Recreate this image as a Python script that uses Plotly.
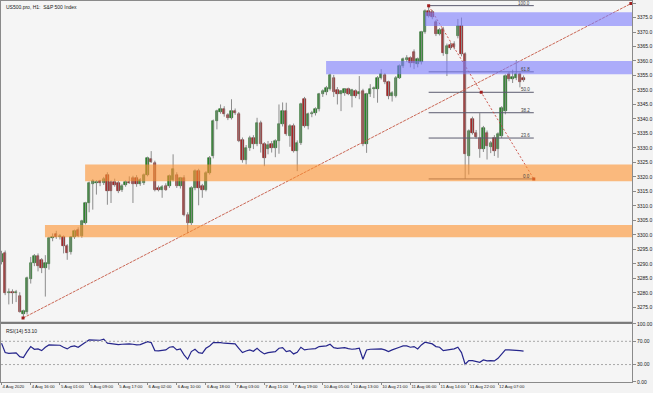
import plotly.graph_objects as go

# ---------------- data ----------------
opens = [3290.5, 3293.7, 3279.9, 3280.4, 3279.8, 3279.0, 3272.6, 3273.3, 3284.6, 3290.3,
         3292.8, 3291.2, 3288.6, 3290.0, 3298.9, 3300.2, 3299.2, 3299.2, 3296.0, 3294.0,
         3299.2, 3301.8, 3299.5, 3304.2, 3311.0, 3317.4, 3317.8, 3318.5, 3317.9, 3320.8,
         3318.2, 3318.4, 3317.8, 3315.6, 3317.2, 3318.3, 3319.7, 3319.7, 3317.4, 3317.8,
         3320.8, 3326.2, 3324.9, 3316.2, 3315.6, 3316.8, 3316.8, 3319.1, 3320.8, 3316.8,
         3319.7, 3307.0, 3304.1, 3316.2, 3322.0, 3316.8, 3315.6, 3321.5, 3327.2, 3339.3,
         3342.4, 3343.6, 3341.3, 3340.4, 3342.7, 3341.6, 3332.9, 3326.0, 3330.1, 3333.5,
         3331.2, 3338.7, 3331.2, 3329.6, 3331.2, 3330.1, 3332.4, 3338.1, 3342.7, 3334.1,
         3337.5, 3328.9, 3331.8, 3346.8, 3337.5, 3341.6, 3342.0, 3343.3, 3348.5, 3349.2,
         3350.2, 3354.3, 3350.0, 3348.6, 3348.8, 3350.2, 3347.8, 3349.5, 3348.6, 3349.7,
         3331.2, 3348.5, 3350.2, 3350.2, 3354.3, 3355.1, 3352.6, 3347.9, 3347.9, 3354.3,
         3358.3, 3360.4, 3361.0, 3363.0, 3359.0, 3359.5, 3369.9, 3377.3, 3376.8, 3373.3,
         3369.3, 3371.0, 3362.4, 3365.6, 3366.0, 3368.7, 3372.1, 3362.4, 3327.2, 3339.9,
         3335.3, 3333.5, 3329.5, 3335.0, 3330.2, 3333.5, 3329.5, 3334.0, 3342.7, 3355.4,
         3353.7, 3354.0, 3355.4, 3354.2]
highs = [3294.5, 3294.6, 3281.5, 3281.2, 3281.0, 3280.2, 3274.2, 3285.6, 3292.4, 3293.4,
         3293.6, 3292.0, 3293.0, 3299.3, 3300.5, 3301.4, 3300.3, 3299.8, 3296.8, 3299.6,
         3301.8, 3302.6, 3305.2, 3311.4, 3318.4, 3319.2, 3318.9, 3319.0, 3320.0, 3321.6,
         3318.8, 3319.4, 3318.6, 3317.6, 3318.8, 3320.2, 3320.4, 3320.6, 3319.6, 3321.2,
         3327.0, 3328.9, 3325.6, 3317.0, 3317.2, 3317.8, 3320.8, 3327.8, 3321.6, 3320.0,
         3320.6, 3307.8, 3316.8, 3322.6, 3322.8, 3317.6, 3322.0, 3327.2, 3339.8, 3343.2,
         3345.0, 3344.4, 3342.0, 3346.8, 3343.6, 3342.4, 3333.6, 3331.0, 3334.2, 3334.4,
         3340.4, 3339.4, 3332.0, 3332.4, 3332.4, 3333.0, 3345.0, 3345.7, 3345.6, 3338.2,
         3338.4, 3332.6, 3345.6, 3347.6, 3342.2, 3342.8, 3344.0, 3349.0, 3350.2, 3351.4,
         3355.6, 3355.2, 3351.0, 3350.0, 3350.6, 3350.8, 3350.4, 3350.2, 3354.8, 3350.4,
         3349.0, 3352.0, 3351.2, 3354.8, 3357.2, 3355.8, 3353.2, 3349.6, 3354.8, 3358.8,
         3361.2, 3362.0, 3361.6, 3364.0, 3361.2, 3370.4, 3377.8, 3379.1, 3377.6, 3374.2,
         3371.4, 3371.8, 3366.0, 3366.4, 3366.8, 3374.5, 3375.0, 3363.0, 3336.4, 3340.8,
         3336.2, 3342.0, 3337.6, 3336.0, 3332.4, 3334.4, 3335.4, 3344.4, 3355.4, 3356.2,
         3357.0, 3360.3, 3356.0, 3355.0]
lows = [3289.8, 3279.2, 3276.0, 3276.2, 3276.8, 3273.2, 3271.4, 3272.5, 3283.2, 3289.2,
        3287.4, 3286.8, 3278.7, 3288.0, 3297.8, 3298.6, 3298.4, 3293.6, 3291.4, 3293.2,
        3298.6, 3299.2, 3299.0, 3303.6, 3307.8, 3308.7, 3313.9, 3316.8, 3317.2, 3310.4,
        3311.0, 3316.6, 3314.4, 3314.8, 3316.6, 3317.6, 3311.0, 3316.6, 3316.9, 3317.2,
        3320.2, 3324.8, 3315.0, 3315.0, 3312.8, 3315.2, 3316.2, 3318.4, 3316.2, 3316.0,
        3306.4, 3300.6, 3303.4, 3315.4, 3310.2, 3312.8, 3315.0, 3320.8, 3326.4, 3336.4,
        3341.8, 3340.8, 3339.6, 3339.8, 3341.4, 3332.0, 3324.9, 3324.3, 3329.0, 3329.6,
        3330.6, 3328.4, 3323.7, 3327.8, 3328.4, 3326.8, 3328.0, 3337.4, 3334.2, 3330.4,
        3328.4, 3322.0, 3331.0, 3337.0, 3336.4, 3340.6, 3341.2, 3342.6, 3347.6, 3348.2,
        3349.8, 3347.6, 3345.0, 3342.7, 3348.0, 3348.2, 3344.0, 3347.2, 3346.8, 3330.6,
        3328.3, 3347.6, 3347.2, 3345.6, 3353.6, 3352.0, 3346.8, 3346.0, 3347.4, 3353.8,
        3357.6, 3359.6, 3357.8, 3357.2, 3357.8, 3358.8, 3369.4, 3375.0, 3374.4, 3368.6,
        3368.8, 3361.8, 3354.8, 3363.8, 3364.0, 3367.8, 3361.6, 3319.3, 3320.8, 3334.6,
        3333.2, 3326.6, 3328.6, 3326.0, 3328.2, 3327.2, 3326.6, 3333.4, 3341.6, 3353.0,
        3352.4, 3353.4, 3350.9, 3352.8]
closes = [3293.5, 3279.9, 3280.4, 3279.8, 3280.2, 3273.5, 3273.6, 3285.1, 3290.3, 3292.6,
          3289.1, 3288.6, 3290.2, 3298.9, 3299.4, 3299.2, 3299.6, 3296.0, 3293.7, 3299.2,
          3301.2, 3299.6, 3304.7, 3311.0, 3318.0, 3318.5, 3318.4, 3317.9, 3319.4, 3315.1,
          3315.2, 3317.2, 3315.1, 3317.0, 3318.3, 3318.0, 3317.4, 3317.4, 3319.1, 3320.8,
          3326.6, 3325.2, 3315.6, 3315.6, 3316.4, 3315.6, 3320.2, 3322.6, 3316.8, 3319.7,
          3307.0, 3304.1, 3316.2, 3322.0, 3316.2, 3315.6, 3321.5, 3326.6, 3339.3, 3342.7,
          3343.4, 3341.6, 3340.4, 3342.7, 3342.1, 3332.4, 3326.0, 3330.1, 3333.5, 3331.2,
          3338.7, 3331.2, 3326.6, 3331.0, 3330.1, 3332.4, 3338.1, 3342.7, 3334.7, 3337.5,
          3328.9, 3331.8, 3345.0, 3337.5, 3341.6, 3342.2, 3343.3, 3348.5, 3349.6, 3350.8,
          3355.0, 3349.3, 3348.6, 3349.8, 3350.2, 3348.6, 3350.0, 3347.9, 3349.4, 3331.2,
          3348.5, 3350.2, 3350.6, 3354.3, 3355.4, 3352.6, 3347.9, 3348.8, 3354.3, 3358.3,
          3360.6, 3361.2, 3359.2, 3359.2, 3360.6, 3369.9, 3377.3, 3375.6, 3375.1, 3369.3,
          3370.6, 3362.9, 3365.2, 3364.6, 3365.0, 3372.1, 3362.4, 3327.8, 3335.8, 3335.3,
          3333.8, 3329.5, 3337.0, 3330.6, 3331.8, 3328.9, 3334.7, 3343.9, 3354.8, 3353.7,
          3354.6, 3355.4, 3352.6, 3353.5]
rsi = [66.7, 50.6, 49.4, 49.4, 50.0, 43.7, 42.0, 52.3, 60.9, 56.3,
       56.9, 54.0, 59.8, 63.8, 63.8, 63.2, 63.2, 59.8, 56.9, 60.9,
       62.1, 59.8, 64.9, 68.4, 72.4, 72.4, 72.4, 71.8, 73.6, 66.7,
       66.1, 64.9, 64.4, 64.9, 65.5, 65.5, 64.9, 63.8, 64.4, 66.7,
       69.5, 67.8, 54.0, 53.4, 54.0, 55.2, 59.8, 60.9, 55.2, 56.9,
       46.6, 39.1, 52.3, 56.3, 50.6, 49.4, 58.0, 62.1, 67.8, 68.4,
       67.8, 66.7, 66.1, 66.7, 65.5, 58.0, 50.6, 53.4, 55.2, 52.9,
       58.0, 52.3, 48.3, 50.6, 51.1, 52.3, 58.0, 59.2, 52.3, 54.0,
       48.3, 51.1, 59.8, 55.2, 56.3, 56.9, 57.5, 60.9, 62.1, 62.1,
       64.9, 59.2, 58.0, 58.0, 59.2, 57.5, 56.3, 56.9, 58.0, 39.1,
       55.2, 56.3, 56.9, 57.5, 56.9, 55.2, 52.3, 55.2, 56.9, 59.8,
       62.1, 62.1, 59.8, 60.9, 56.9, 63.8, 68.4, 66.7, 65.5, 60.9,
       59.8, 54.0, 55.2, 55.2, 56.9, 59.8, 50.6, 30.5, 36.8, 36.8,
       35.1, 33.9, 37.9, 36.2, 36.8, 36.2, 40.8, 48.3, 55.2, 55.2,
       55.2, 55.2, 54.0, 53.1]

time_tick_bars = [0, 8, 16, 24, 32, 40, 48, 56, 64, 72, 80, 88, 96, 104, 112, 120, 128, 136]
time_tick_labels = ["4 Aug 2020", "4 Aug 16:00", "5 Aug 01:00", "5 Aug 09:00", "5 Aug 17:00",
                    "6 Aug 02:00", "6 Aug 10:00", "6 Aug 18:00", "7 Aug 03:00", "7 Aug 11:00",
                    "7 Aug 19:00", "10 Aug 05:00", "10 Aug 13:00", "10 Aug 21:00",
                    "11 Aug 06:00", "11 Aug 14:00", "11 Aug 22:00", "12 Aug 07:00"]
price_ticks = [3275, 3280, 3285, 3290, 3295, 3300, 3305, 3310, 3315, 3320, 3325, 3330,
               3335, 3340, 3345, 3350, 3355, 3360, 3365, 3370, 3375, 3380]
rsi_ticks = [0, 30, 70, 100]
rsi_levels = [30, 70]

# supply / demand zones (start bar, low, high)
zone_start = [11.9, 22.9, 88.9, 116.0]
zone_low = [3299.2, 3318.5, 3355.4, 3372.1]
zone_high = [3303.4, 3324.3, 3360.0, 3376.8]
zone_kind = ["orange", "orange", "blue", "blue"]

trend_x = [5.9, 172.4]
trend_y = [3271.3, 3379.8]

fib_x = [117.0, 145.8]
fib_high = 3379.1
fib_low = 3319.3
fib_levels = [0.0, 23.6, 38.2, 50.0, 61.8, 100.0]

# ---------------- figure ----------------
N = len(closes)
idx = list(range(N))
X_RANGE = [-0.14, 172.7]
FONT = "Liberation Sans"
fig = go.Figure()

# wicks
wx, wy = [], []
for i in idx:
    wx += [i, i, None]
    wy += [lows[i], highs[i], None]
fig.add_trace(go.Scatter(x=wx, y=wy, mode="lines", line=dict(color="#8c8c8c", width=1),
                         hoverinfo="skip", showlegend=False, xaxis="x", yaxis="y"))

# bodies
base = [min(o, c) for o, c in zip(opens, closes)]
height = [max(abs(c - o), 0.35) for o, c in zip(opens, closes)]
up = [c >= o for o, c in zip(opens, closes)]
fill = ["#2a8a2a" if u else "#b02626" for u in up]
edge = ["#1a5a1a" if u else "#6a1414" for u in up]
fig.add_trace(go.Bar(x=idx, y=height, base=base, width=0.66,
                     marker=dict(color=fill, line=dict(color=edge, width=0.6)),
                     showlegend=False, xaxis="x", yaxis="y"))

# main trend line
fig.add_trace(go.Scatter(x=trend_x, y=trend_y, mode="lines+markers",
                         line=dict(color="rgba(196,86,66,0.9)", width=1, dash="3px,1px"),
                         marker=dict(color="#a01e1e", size=3, symbol="square"),
                         showlegend=False, xaxis="x", yaxis="y"))

# fibonacci lines
for lvl in fib_levels:
    p = fib_low + (fib_high - fib_low) * lvl / 100.0
    fig.add_trace(go.Scatter(x=fib_x, y=[p, p], mode="lines",
                             line=dict(color="#5c5c70", width=1),
                             showlegend=False, xaxis="x", yaxis="y"))
    fig.add_annotation(x=fib_x[1], y=p, xref="x", yref="y", text=f"{lvl:.1f}",
                       showarrow=False, xanchor="right", yanchor="middle", xshift=-2,
                       yshift=2.5, font=dict(size=4.5, color="#404040", family=FONT))
fig.add_trace(go.Scatter(x=[fib_x[0], (fib_x[0] + fib_x[1]) / 2, fib_x[1]],
                         y=[fib_high, (fib_high + fib_low) / 2, fib_low],
                         mode="lines+markers",
                         line=dict(color="rgba(200,70,60,0.9)", width=1, dash="2px,2px"),
                         marker=dict(color="#a01e1e", size=3, symbol="square"),
                         showlegend=False, xaxis="x", yaxis="y"))

# RSI
fig.add_trace(go.Scatter(x=idx, y=rsi, mode="lines", line=dict(color="#26268c", width=1.2),
                         showlegend=False, xaxis="x2", yaxis="y2"))

shapes = []
for xs, lo, hi, kind in zip(zone_start, zone_low, zone_high, zone_kind):
    col = "rgb(253,145,45)" if kind == "orange" else "rgb(123,123,253)"
    shapes.append(dict(type="rect", xref="x", yref="y", x0=xs, x1=X_RANGE[1], y0=lo, y1=hi,
                       fillcolor=col, opacity=0.6, line=dict(width=0), layer="above"))
for lv in rsi_levels:
    shapes.append(dict(type="line", xref="x2", yref="y2", x0=X_RANGE[0], x1=X_RANGE[1],
                       y0=lv, y1=lv, line=dict(color="#a8a8a8", width=1, dash="2px,2px")))
MAIN_DOM = [0.158, 1.0]
RSI_DOM = [0.0, 0.1526]
shapes.append(dict(type="rect", xref="paper", yref="paper", x0=0, x1=1,
                   y0=RSI_DOM[1], y1=MAIN_DOM[0], fillcolor="#7a7a7a", line=dict(width=0)))

fig.add_annotation(xref="paper", yref="paper", x=0.004, y=0.997, text="US500.pro, H1:  S&P 500 Index",
                   showarrow=False, xanchor="left", yanchor="top",
                   font=dict(size=5, color="#202020", family=FONT))
fig.add_annotation(xref="paper", yref="paper", x=0.004, y=RSI_DOM[1] - 0.006,
                   text=f"RSI(14) {rsi[-1]:.2f}", showarrow=False, xanchor="left", yanchor="top",
                   font=dict(size=5, color="#202020", family=FONT))

axis_common = dict(showgrid=False, zeroline=False, showline=True, linecolor="#8a8a8a",
                   linewidth=1, mirror=True, automargin=False)
fig.update_layout(
    width=653, height=393,
    margin=dict(l=1, r=21, t=1, b=11),
    paper_bgcolor="#f3f3f3", plot_bgcolor="#f5f5f5",
    font=dict(family=FONT, size=5, color="#202020"),
    bargap=0, showlegend=False, shapes=shapes,
    xaxis=dict(domain=[0, 1], anchor="y", range=X_RANGE, showticklabels=False,
               ticks="", **axis_common),
    yaxis=dict(domain=MAIN_DOM, anchor="x", side="right", range=[3270.0, 3380.7],
               tickmode="array", tickvals=price_ticks,
               ticktext=[f"{v:.1f}" for v in price_ticks],
               ticks="outside", ticklen=3, tickcolor="#8a8a8a",
               tickfont=dict(size=5, color="#202020"), **axis_common),
    xaxis2=dict(domain=[0, 1], anchor="y2", range=X_RANGE, matches="x",
                tickmode="array", tickvals=time_tick_bars, ticktext=time_tick_labels,
                ticks="outside", ticklen=2, tickcolor="#8a8a8a", tickangle=0,
                ticklabelposition="outside right",
                tickfont=dict(size=4.3, color="#202020"), **axis_common),
    yaxis2=dict(domain=RSI_DOM, anchor="x2", side="right", range=[0, 100],
                tickmode="array", tickvals=rsi_ticks,
                ticktext=[f"{v:.2f}" for v in rsi_ticks],
                ticks="outside", ticklen=3, tickcolor="#8a8a8a",
                tickfont=dict(size=5, color="#202020"), **axis_common),
)

fig.write_html("out.html")
